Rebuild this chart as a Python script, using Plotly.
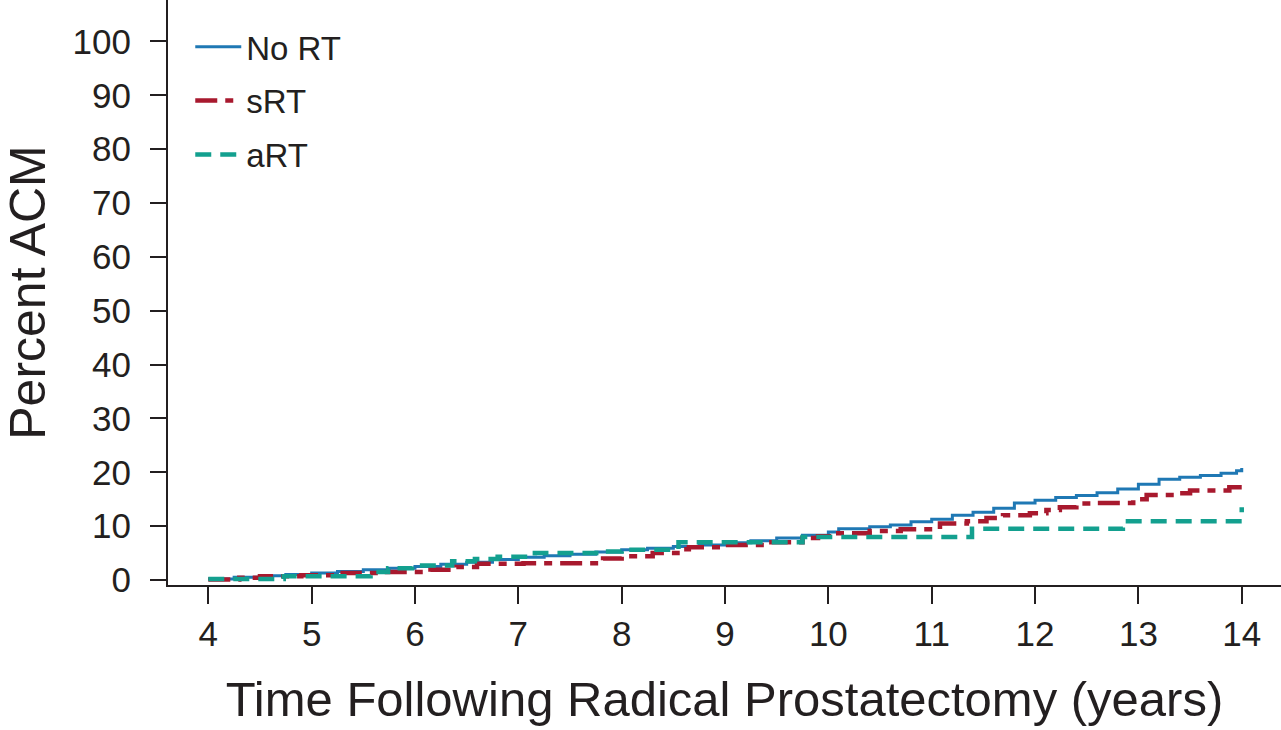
import plotly.graph_objects as go

# No RT (solid blue)
t_nort = [4.0, 4.25, 4.5, 4.75, 5.0, 5.25, 5.5, 5.75, 6.0, 6.25, 6.5, 6.75, 7.0, 7.25, 7.5,
          7.75, 8.0, 8.25, 8.5, 8.75, 9.0, 9.25, 9.5, 9.75, 10.0, 10.1, 10.4, 10.6, 10.8,
          11.0, 11.2, 11.4, 11.6, 11.8, 12.0, 12.2, 12.4, 12.6, 12.8, 13.0, 13.2, 13.4,
          13.6, 13.8, 13.95, 14.0]
v_nort = [0.2, 0.5, 0.8, 1.0, 1.3, 1.6, 1.9, 2.2, 2.5, 2.9, 3.3, 3.8, 4.2, 4.5, 4.8,
          5.2, 5.6, 5.9, 6.2, 6.5, 6.9, 7.3, 7.8, 8.3, 8.9, 9.5, 9.9, 10.2, 10.8,
          11.3, 12.0, 12.6, 13.3, 14.3, 14.8, 15.3, 15.7, 16.2, 16.9, 17.8, 18.7, 19.1,
          19.4, 19.8, 20.3, 20.8]

# sRT (red dash-dot)
t_srt = [4.0, 4.3, 4.5, 4.9, 5.3, 5.66, 6.15, 6.4, 6.6, 7.05, 7.82, 8.0, 8.3, 8.54, 8.65,
         9.0, 9.4, 9.75, 9.9, 10.05, 10.4, 10.7, 11.08, 11.34, 11.53, 11.69, 11.95, 12.11,
         12.24, 12.4, 12.6, 12.95, 13.08, 13.37, 13.5, 13.88, 14.0]
v_srt = [0.1, 0.4, 0.7, 0.9, 1.3, 1.5, 1.9, 2.4, 3.0, 3.1, 4.0, 4.4, 5.0, 5.7, 6.1,
         6.5, 7.0, 7.8, 8.1, 8.7, 9.1, 9.4, 10.5, 10.9, 11.5, 12.0, 12.4, 13.0,
         13.5, 14.2, 14.3, 15.0, 15.8, 16.1, 16.6, 17.2, 17.2]

# aRT (teal dashed)
t_art = [4.0, 4.73, 5.57, 5.74, 5.97, 6.36, 6.58, 6.8, 7.16, 7.8, 8.0, 8.55, 9.75, 11.39,
         12.85, 14.0, 14.0]
v_art = [0.2, 0.7, 1.5, 2.2, 2.7, 3.5, 3.9, 4.3, 5.0, 5.3, 5.6, 7.0, 8.0, 9.5,
         10.9, 10.9, 13.5]

series_names = ["No RT", "sRT", "aRT"]
colors = ["#1f78b4", "#a8192e", "#13a08f"]
dashes = ["solid", "22px,8px,8px,8px", "16px,9px"]
widths = [3, 4.5, 4.5]

x_ticks = list(range(4, 15))
y_ticks = list(range(0, 101, 10))

fig = go.Figure()
for name, tx, vy, c, d, w in zip(series_names, [t_nort, t_srt, t_art],
                                 [v_nort, v_srt, v_art], colors, dashes, widths):
    fig.add_trace(go.Scatter(x=tx, y=vy, mode="lines", name=name, legendgroup=name,
                             line=dict(color=c, dash=d, width=w, shape="hv")))

axis_color = "#231f20"
fig.update_layout(
    width=1281, height=730,
    margin=dict(l=168, r=0, t=0, b=145, autoexpand=False),
    plot_bgcolor="white", paper_bgcolor="white",
    font=dict(family="Liberation Sans, Arial, sans-serif", color=axis_color),
    showlegend=True,
    legend=dict(x=0.020, y=0.968, xanchor="left", yanchor="top",
                font=dict(size=33, family="Liberation Sans, Arial, sans-serif", color=axis_color),
                tracegroupgap=8, bgcolor="rgba(0,0,0,0)", itemwidth=46),
    xaxis=dict(range=[3.61, 14.38], tickvals=x_ticks, ticktext=[str(v) for v in x_ticks],
               automargin=False,
               showgrid=False, zeroline=False, showline=True, linecolor=axis_color,
               linewidth=2, ticks="outside", ticklen=17, tickwidth=2, tickcolor=axis_color,
               tickfont=dict(size=35, color=axis_color),
               title=dict(text="Time Following Radical Prostatectomy (years)",
                          font=dict(size=49, family="Liberation Sans, Arial, sans-serif",
                                    color=axis_color),
                          standoff=30)),
    yaxis=dict(range=[-0.93, 107.7], tickvals=y_ticks, ticktext=[str(v) for v in y_ticks],
               automargin=False,
               showgrid=False, zeroline=False, showline=True, linecolor=axis_color,
               linewidth=2, ticks="outside", ticklen=16, tickwidth=2, tickcolor=axis_color,
               tickfont=dict(size=35, color=axis_color), ticklabelstandoff=12,
               title=dict(text="Percent ACM",
                          font=dict(size=50, family="Liberation Sans, Arial, sans-serif",
                                    color=axis_color),
                          standoff=14)),
)

fig.write_html("out.html", config={"displayModeBar": False},
               post_script="document.body.style.margin='0';document.body.style.overflow='hidden';")
